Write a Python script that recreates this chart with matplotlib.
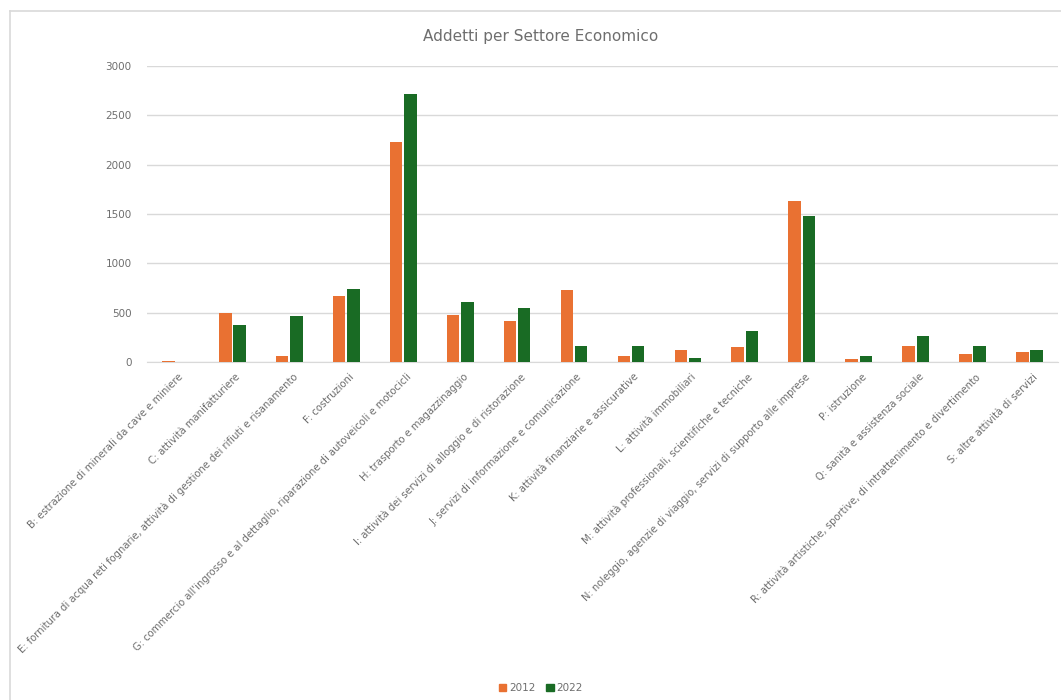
import numpy as np
import matplotlib
matplotlib.use("Agg")
import matplotlib.pyplot as plt
from matplotlib.patches import Patch

# sectors (ATECO sections) and employees per year
settori = [
    "B: estrazione di minerali da cave e miniere",
    "C: attività manifatturiere",
    "E: fornitura di acqua reti fognarie, attività di gestione dei rifiuti e risanamento",
    "F: costruzioni",
    "G: commercio all'ingrosso e al dettaglio, riparazione di autoveicoli e motocicli",
    "H: trasporto e magazzinaggio",
    "I: attività dei servizi di alloggio e di ristorazione",
    "J: servizi di informazione e comunicazione",
    "K: attività finanziarie e assicurative",
    "L: attività immobiliari",
    "M: attività professionali, scientifiche e tecniche",
    "N: noleggio, agenzie di viaggio, servizi di supporto alle imprese",
    "P: istruzione",
    "Q: sanità e assistenza sociale",
    "R: attività artistiche, sportive, di intrattenimento e divertimento",
    "S: altre attività di servizi",
]
addetti_2012 = [15, 495, 64, 664, 2225, 472, 418, 725, 64, 118, 148, 1631, 30, 165, 81, 104]
addetti_2022 = [2, 377, 468, 738, 2720, 607, 546, 165, 165, 40, 310, 1483, 57, 260, 158, 125]
anni = ["2012", "2022"]
y_ticks = [0, 500, 1000, 1500, 2000, 2500, 3000]

orange = "#E97132"
green = "#196B24"
grey = "#6E6E6E"

fig = plt.figure(figsize=(10.61, 7.0), dpi=100)
ax = fig.add_axes([147 / 1061, 1 - 362 / 700, (1058 - 147) / 1061, (362 - 66) / 700])

x = np.arange(len(settori))
w = 0.22
ax.bar(x - 0.125, addetti_2012, width=w, color=orange, zorder=3)
ax.bar(x + 0.125, addetti_2022, width=w, color=green, zorder=3)

ax.set_xlim(-0.5, len(settori) - 0.5)
ax.set_ylim(0, 3000)
ax.set_yticks(y_ticks)
ax.set_yticklabels([str(t) for t in y_ticks], fontsize=7.5, color=grey)
ax.yaxis.grid(True, color="#D9D9D9", linewidth=1.0, zorder=0)
ax.tick_params(axis="y", length=0, pad=11)
ax.tick_params(axis="x", length=0, pad=7)
for s in ["top", "right", "left"]:
    ax.spines[s].set_visible(False)
ax.spines["bottom"].set_color("#D9D9D9")

ax.set_xticks(x + 0.05)
ax.set_xticklabels(settori, rotation=45, ha="right", rotation_mode="anchor",
                   fontsize=7.2, color=grey)

fig.text(0.51, 1 - 37 / 700, "Addetti per Settore Economico", ha="center", va="center",
         fontsize=11, color=grey)

handles = [Patch(color=orange), Patch(color=green)]
fig.legend(handles, anni, loc="center", bbox_to_anchor=(0.51, 1 - 688 / 700), ncol=2,
           frameon=False, fontsize=7.5, labelcolor=grey, handlelength=0.7, handleheight=0.7,
           handletextpad=0.3, columnspacing=1.0)

# chart border
fig.add_artist(plt.Line2D([10 / 1061, 10 / 1061], [0, 1 - 11 / 700], color="#D9D9D9", lw=1.2))
fig.add_artist(plt.Line2D([10 / 1061, 1], [1 - 11 / 700, 1 - 11 / 700], color="#D9D9D9", lw=1.2))

fig.savefig("out.png", dpi=100)
